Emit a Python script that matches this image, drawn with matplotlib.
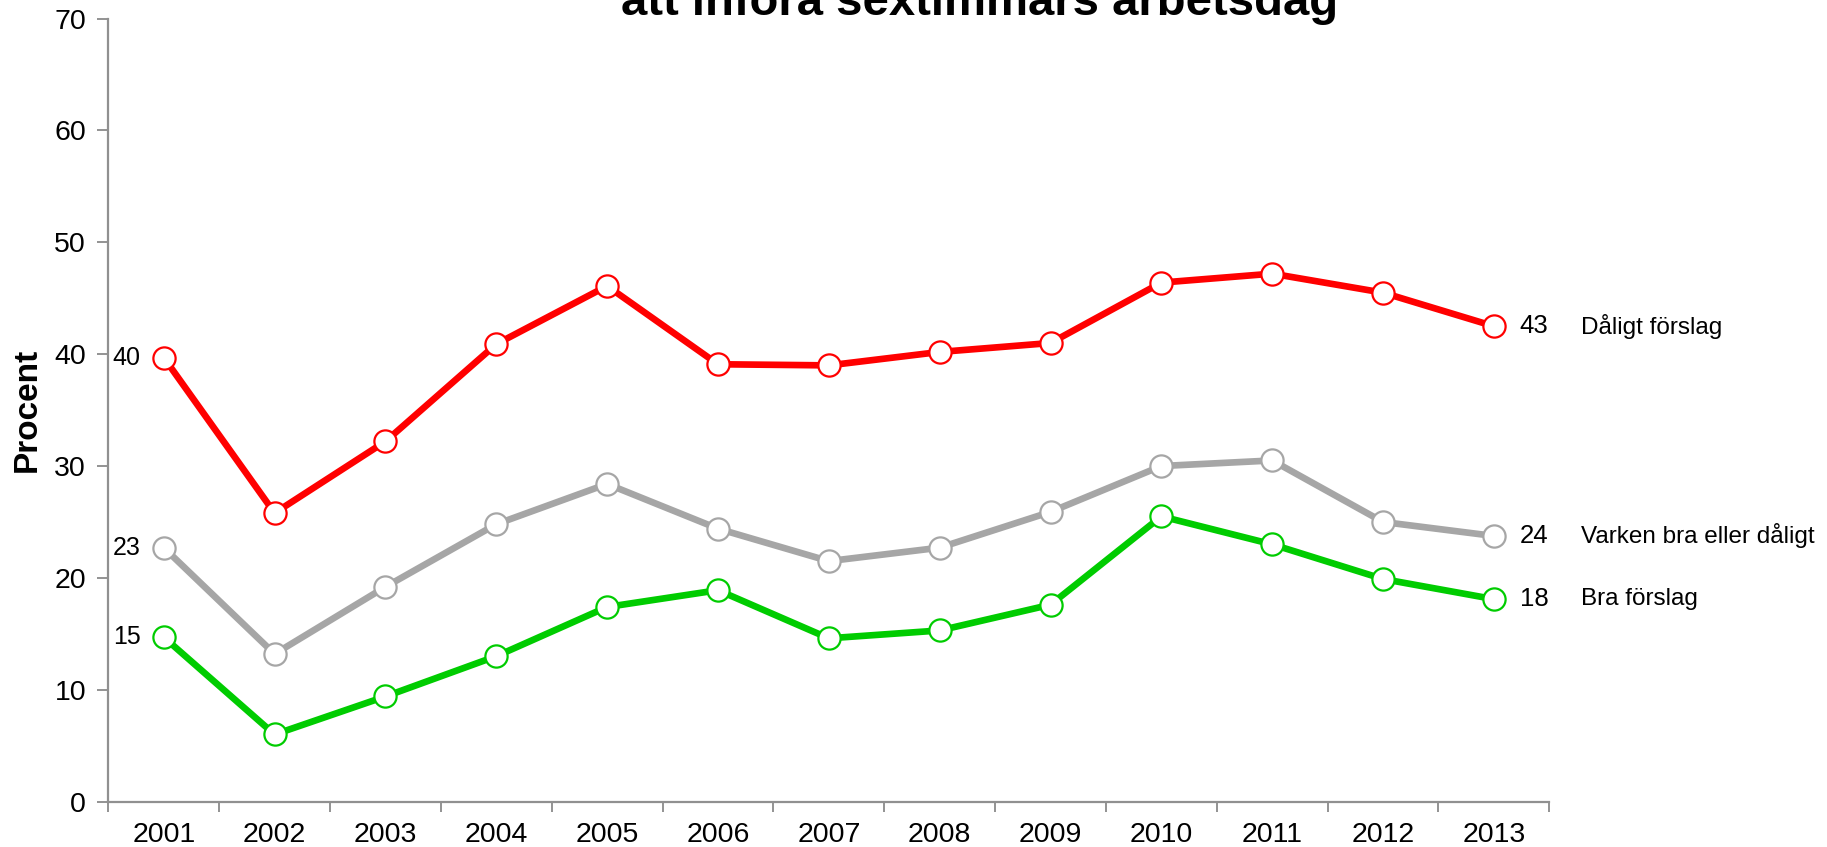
import matplotlib
matplotlib.use("Agg")
import matplotlib.pyplot as plt

plt.rcParams['font.family'] = ['Liberation Sans', 'DejaVu Sans']

years = ['2001', '2002', '2003', '2004', '2005', '2006', '2007',
         '2008', '2009', '2010', '2011', '2012', '2013']
daligt = [39.7, 25.8, 32.2, 40.9, 46.1, 39.1, 39.0, 40.2, 41.0, 46.4, 47.2, 45.5, 42.5]
varken = [22.7, 13.2, 19.2, 24.8, 28.4, 24.4, 21.5, 22.7, 25.9, 30.0, 30.5, 25.0, 23.75]
bra = [14.7, 6.0, 9.4, 13.0, 17.4, 18.9, 14.6, 15.3, 17.6, 25.5, 23.0, 19.9, 18.1]
names = ['Dåligt förslag', 'Varken bra eller dåligt', 'Bra förslag']
first_labels = ['40', '23', '15']
last_labels = ['43', '24', '18']
colors = ['#FF0000', '#A6A6A6', '#00CC00']

fig = plt.figure(figsize=(18.27, 8.47), dpi=100)
ax = fig.add_axes([0.0593, 0.0536, 0.7887, 0.9244])

x = list(range(len(years)))
for vals, col, nm, fl, ll in zip([daligt, varken, bra], colors, names, first_labels, last_labels):
    ax.plot(x, vals, color=col, lw=4.8, marker='o', ms=16,
            mfc='white', mec=col, mew=1.6, zorder=3)
    ax.annotate(fl, (x[0], vals[0]), xytext=(-16.5, 0), textcoords='offset points',
                ha='right', va='center', fontsize=18)
    ax.annotate(ll, (x[-1], vals[-1]), xytext=(18.5, 0), textcoords='offset points',
                ha='left', va='center', fontsize=18.5)
    ax.annotate(nm, (x[-1], vals[-1]), xytext=(63, 0), textcoords='offset points',
                ha='left', va='center', fontsize=17.5, annotation_clip=False)

ax.set_xlim(-0.5, len(years) - 0.5)
ax.set_ylim(0, 70)
ax.set_yticks(range(0, 71, 10))
ax.set_xticks([i - 0.5 for i in range(len(years) + 1)])
ax.set_xticklabels([])
ax.set_xticks(x, minor=True)
ax.set_xticklabels(years, minor=True)
ax.tick_params(axis='x', which='minor', length=0, pad=15, labelsize=20.5)
ax.tick_params(axis='x', which='major', length=7, width=1.2, color='#808080', direction='out')
ax.tick_params(axis='y', length=8, width=1.2, color='#808080', direction='out', labelsize=20.5, pad=8)

for s in ['top', 'right']:
    ax.spines[s].set_visible(False)
for s in ['left', 'bottom']:
    ax.spines[s].set_color('#909090')
    ax.spines[s].set_linewidth(1.6)

ax.set_ylabel('Procent', fontsize=24, fontweight='bold')
ax.yaxis.set_label_coords(-0.0454, 0.5)

fig.text(0.536, 0.982, 'att införa sextimmars arbetsdag', ha='center', va='baseline',
         fontsize=34, fontweight='bold')

fig.savefig('out.png', dpi=100)
